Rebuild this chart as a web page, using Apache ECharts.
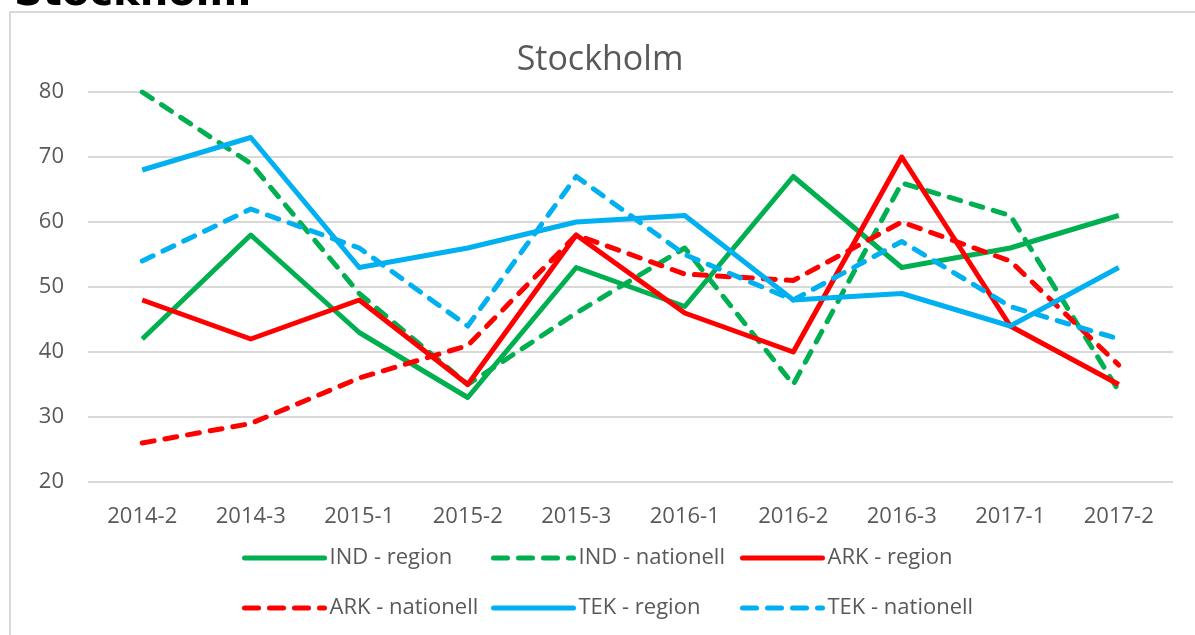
<!DOCTYPE html>
<html>
<head>
<meta charset="utf-8">
<script src="https://cdn.jsdelivr.net/npm/echarts@6/dist/echarts.min.js"></script>
<style>
html,body{margin:0;padding:0;background:#fff;}
#c{width:1195px;height:635px;}
</style>
</head>
<body>
<div id="c"></div>
<script>
const categories = ['2014-2','2014-3','2015-1','2015-2','2015-3','2016-1','2016-2','2016-3','2017-1','2017-2'];
const indRegion    = [42, 58, 43, 33, 53, 47, 67, 53, 56, 61];
const indNationell = [80, 69, 49, 35, 46, 56, 35, 66, 61, 34];
const arkRegion    = [48, 42, 48, 35, 58, 46, 40, 70, 44, 35];
const arkNationell = [26, 29, 36, 41, 58, 52, 51, 60, 54, 38];
const tekRegion    = [68, 73, 53, 56, 60, 61, 48, 49, 44, 53];
const tekNationell = [54, 62, 56, 44, 67, 55, 48, 57, 47, 42];
const seriesNames = ['IND - region','IND - nationell','ARK - region','ARK - nationell','TEK - region','TEK - nationell'];
const chartTitle = 'Stockholm';

const GREEN = '#00B050', RED = '#FF0000', BLUE = '#00B0F0';
const FONT = '"Open Sans", sans-serif';
const DASH = [12, 11];
const LW = 5;

function mkSeries(name, data, color, dashed) {
  return {
    name: name, type: 'line', data: data,
    symbol: 'none', showSymbol: false,
    lineStyle: { color: color, width: LW, type: dashed ? DASH : 'solid', cap: dashed ? 'round' : 'butt', join: 'round' },
    itemStyle: { color: color },
    emphasis: { disabled: true },
    animation: false
  };
}

const legendPos = [[237,538],[486,538],[735,538],[237,588],[486,588],[735,588]];
const legendDashed = [false, true, false, true, false, true];
const legends = seriesNames.map((n, i) => ({
  data: [n],
  left: legendPos[i][0], top: legendPos[i][1],
  orient: 'horizontal',
  itemWidth: 80, itemHeight: 14,
  selectedMode: false,
  itemStyle: { opacity: 0, color: 'rgba(0,0,0,0)', borderWidth: 0 },
  lineStyle: { width: LW, type: legendDashed[i] ? [14, 11] : 'solid', cap: 'round', opacity: 1 },
  textStyle: { fontFamily: FONT, fontSize: 22, color: '#595959', lineHeight: 30 }
}));

const chart = echarts.init(document.getElementById('c'), null, { renderer: 'canvas' });
chart.setOption({
  animation: false,
  backgroundColor: '#ffffff',
  graphic: [
    { type: 'rect', shape: { x: 10, y: 12, width: 1200, height: 640 }, style: { fill: 'none', stroke: '#d9d9d9', lineWidth: 2 }, z: -1 },
    { type: 'text', x: 14, y: 15, style: { text: chartTitle, font: 'bold 40px "DejaVu Sans"', fill: '#000', textAlign: 'left', textVerticalAlign: 'bottom' } },
    { type: 'text', x: 600, y: 60, style: { text: chartTitle, fontFamily: FONT, fontSize: 34, fill: '#595959', textAlign: 'center', textVerticalAlign: 'middle' } }
  ],
  legend: legends,
  grid: { left: 88, right: 22, top: 92, bottom: 153, containLabel: false },
  xAxis: {
    type: 'category', data: categories, boundaryGap: true,
    axisLine: { show: false }, axisTick: { show: false },
    axisLabel: { fontFamily: FONT, fontSize: 22, color: '#595959', margin: 24 },
    splitLine: { show: false }
  },
  yAxis: {
    type: 'value', min: 20, max: 80, interval: 10,
    axisLine: { show: false }, axisTick: { show: false },
    axisLabel: { fontFamily: FONT, fontSize: 22, color: '#595959', margin: 24 },
    splitLine: { lineStyle: { color: '#d9d9d9', width: 2 } }
  },
  series: [
    mkSeries(seriesNames[0], indRegion, GREEN, false),
    mkSeries(seriesNames[1], indNationell, GREEN, true),
    mkSeries(seriesNames[2], arkRegion, RED, false),
    mkSeries(seriesNames[3], arkNationell, RED, true),
    mkSeries(seriesNames[4], tekRegion, BLUE, false),
    mkSeries(seriesNames[5], tekNationell, BLUE, true)
  ]
});
</script>
</body>
</html>
